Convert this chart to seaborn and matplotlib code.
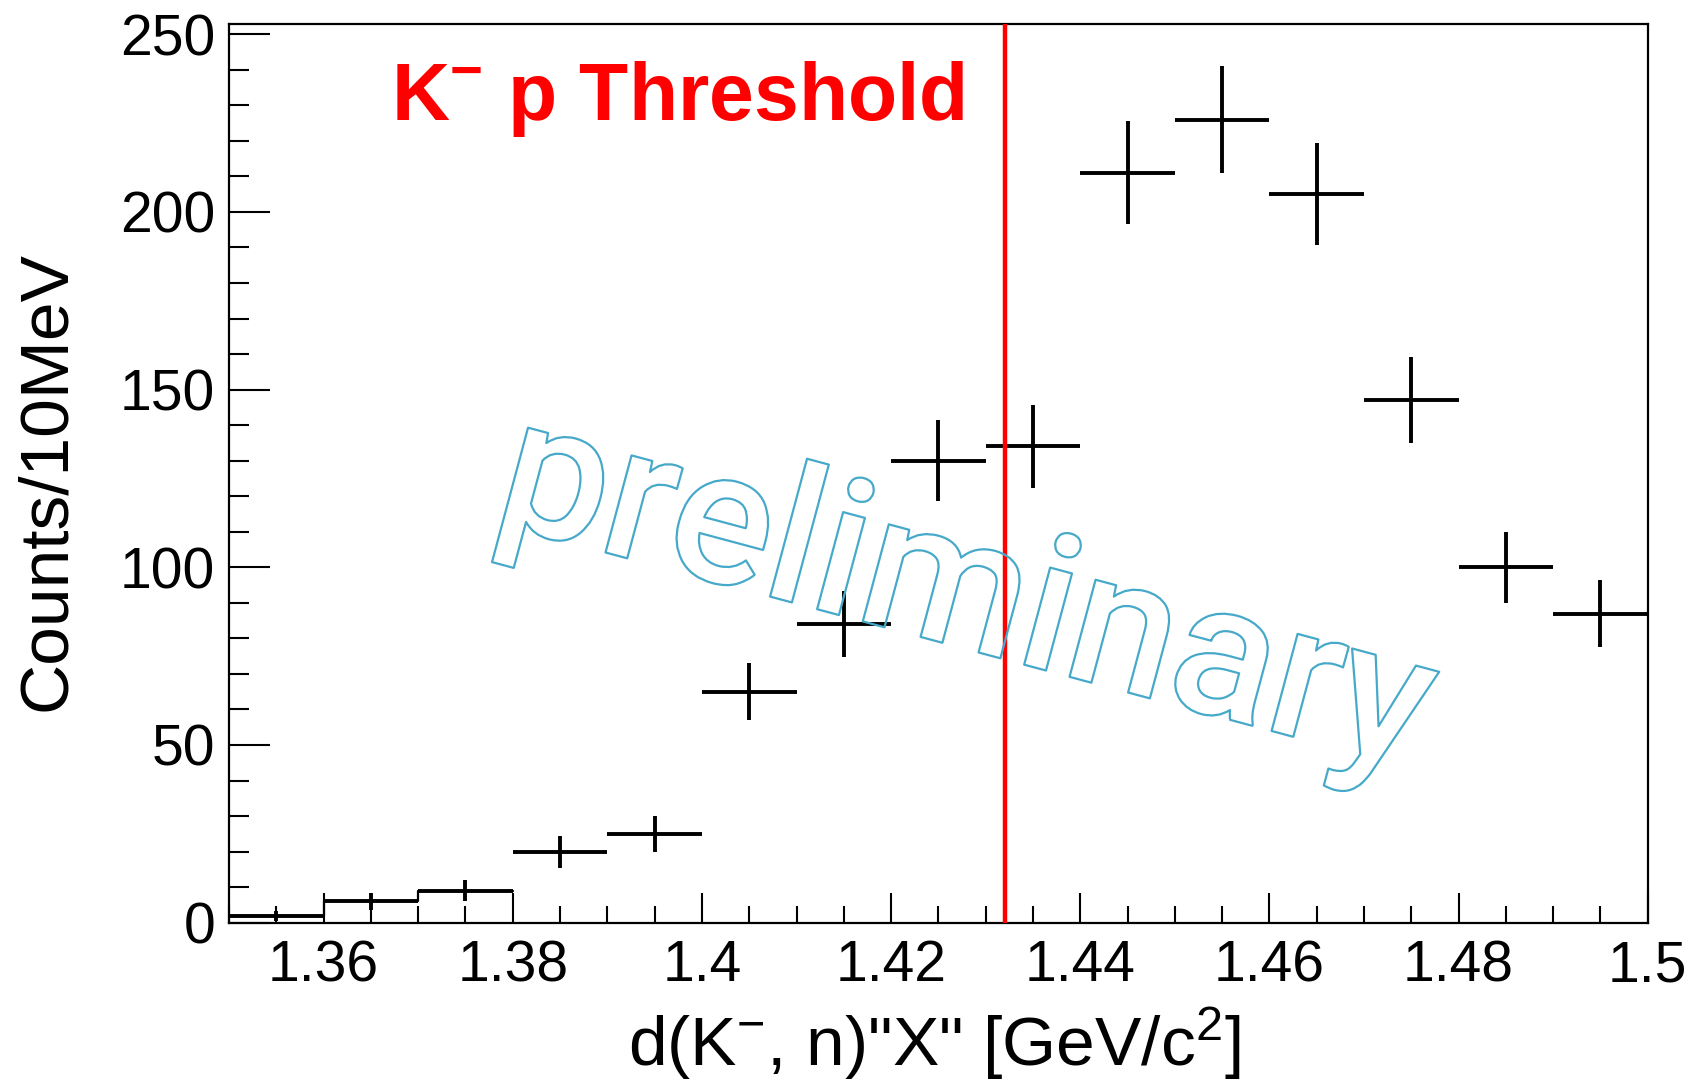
import numpy as np
import pandas as pd
import matplotlib
matplotlib.use('Agg')
import matplotlib.pyplot as plt
import matplotlib.patheffects as pe
from matplotlib.ticker import MultipleLocator, FuncFormatter
import seaborn as sns

# ── Data ────────────────────────────────────────────────────
bin_centers = [1.355, 1.365, 1.375, 1.385, 1.395, 1.405, 1.415, 1.425,
               1.435, 1.445, 1.455, 1.465, 1.475, 1.485, 1.495]
counts = [2, 6, 9, 20, 25, 65, 84, 130, 134, 211, 226, 205, 147, 100, 87]
count_err = [1.4, 2.4, 3.0, 4.5, 5.0, 8.1, 9.2, 11.4, 11.6, 14.5, 15.0,
             14.3, 12.1, 10.0, 9.3]
bin_halfwidth = 0.005
n_outlined = 3                      # low bins also drawn with histogram outline
threshold = 1.432                   # K- p threshold [GeV/c^2]
x_major = [1.36, 1.38, 1.40, 1.42, 1.44, 1.46, 1.48, 1.50]
y_major = [0, 50, 100, 150, 200, 250]

df = pd.DataFrame({'mass': bin_centers, 'counts': counts, 'err': count_err})

# ── Style ───────────────────────────────────────────────────
sns.set_theme(style='white')
plt.rcParams.update({
    'font.family': ['Liberation Sans', 'DejaVu Sans'],
    'mathtext.fontset': 'custom',
    'mathtext.rm': 'Liberation Sans',
    'mathtext.it': 'Liberation Sans',
    'mathtext.bf': 'Liberation Sans:bold',
    'axes.edgecolor': 'black',
    'axes.labelcolor': 'black',
    'text.color': 'black',
    'xtick.color': 'black',
    'ytick.color': 'black',
    'axes.linewidth': 1.6,
})

fig = plt.figure(figsize=(16.94, 10.85), dpi=100, facecolor='white')
ax = fig.add_axes([0.1352, 0.1496, 0.8375, 0.828])

# histogram outline for the first few bins
low = df.iloc[:n_outlined]
edges = list(np.round(np.append(low['mass'] - bin_halfwidth,
                                low['mass'].iloc[-1] + bin_halfwidth), 4))
sns.histplot(x=low['mass'], weights=low['counts'], bins=edges, ax=ax,
             element='step', fill=False, color='black', linewidth=1.6)

# data points with Poisson errors
ax.errorbar(df['mass'], df['counts'], xerr=bin_halfwidth, yerr=df['err'],
            fmt='none', ecolor='black', elinewidth=2.8, capsize=0, zorder=3)

# threshold line + label
ax.axvline(threshold, color='#ff0000', linewidth=3.2, zorder=4)
ax.text(1.3671, 226, r'K$^{\mathbf{-}}$ p Threshold', color='#ff0000',
        fontsize=58, fontweight='bold', ha='left', va='baseline')

# watermark
ax.text(1.4265, 78, 'preliminary', family='Roboto', fontweight='medium',
        fontsize=137, color='none', rotation=-15, rotation_mode='anchor',
        ha='center', va='baseline', zorder=5,
        path_effects=[pe.Stroke(linewidth=1.6, foreground='#46a9c9')])

# axes
ax.set_xlim(1.35, 1.5)
ax.set_ylim(0, 252.8)
ax.set_xticks(x_major)
ax.set_yticks(y_major)
ax.xaxis.set_minor_locator(MultipleLocator(0.005))
ax.yaxis.set_minor_locator(MultipleLocator(10))
ax.xaxis.set_major_formatter(FuncFormatter(lambda v, p: f'{v:g}'))
ax.tick_params(axis='both', which='both', direction='in', width=1.5,
               bottom=True, left=True, top=False, right=False,
               labelsize=41, colors='black')
ax.tick_params(axis='x', which='major', length=21.5, pad=12)
ax.tick_params(axis='x', which='minor', length=12)
ax.tick_params(axis='y', which='major', length=29.5, pad=10)
ax.tick_params(axis='y', which='minor', length=14.5)

ax.set_xlabel(r'd(K$^{-}$, n)"X" [GeV/c$^{2}$]', fontsize=50)
ax.set_ylabel('Counts/10MeV', fontsize=50)
ax.xaxis.set_label_coords(0.497, -0.092)
ax.yaxis.set_label_coords(-0.106, 0.492)
for s in ax.spines.values():
    s.set_visible(True)
    s.set_color('black')

fig.savefig('out.png', dpi=100, facecolor='white')
